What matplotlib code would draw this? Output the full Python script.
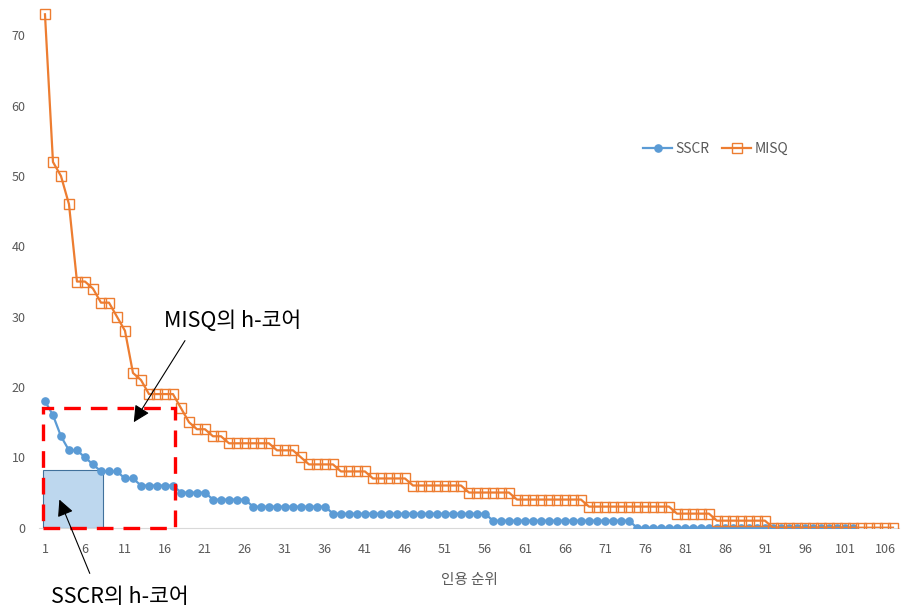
import matplotlib.pyplot as plt
from matplotlib.patches import Rectangle

plt.rcParams['font.family'] = ['Noto Sans CJK KR', 'DejaVu Sans']

# citation counts by rank
sscr = [18, 16, 13, 11, 11, 10, 9, 8, 8, 8, 7, 7, 6, 6, 6, 6, 6, 5, 5, 5, 5,
        4, 4, 4, 4, 4] + [3] * 10 + [2] * 20 + [1] * 18 + [0] * 28
misq = [73, 52, 50, 46, 35, 35, 34, 32, 32, 30, 28, 22, 21, 19, 19, 19, 19, 17,
        15, 14, 14, 13, 13] + [12] * 6 + [11] * 3 + [10] + [9] * 4 + [8] * 4 \
    + [7] * 5 + [6] * 7 + [5] * 6 + [4] * 9 + [3] * 11 + [2] * 5 + [1] * 7 + [0] * 16

h_sscr = 8
h_misq = 17
xticks = list(range(1, 107, 5))
yticks = list(range(0, 71, 10))

blue = "#5B9BD5"
orange = "#ED7D31"
grey = "#595959"

fig = plt.figure(figsize=(9.01, 6.09), dpi=100)
ax = fig.add_axes([0.0437, 0.1335, 0.9536, 0.8615])

ax.plot(range(1, len(sscr) + 1), sscr, color=blue, lw=1.6, marker="o",
        markersize=5.2, label="SSCR", zorder=3)
ax.plot(range(1, len(misq) + 1), misq, color=orange, lw=1.6, marker="s",
        markersize=7.2, markerfacecolor="none", markeredgewidth=1.0,
        label="MISQ", zorder=3)

# h-core boxes
ax.add_patch(Rectangle((0.8, 0), h_sscr - 0.6, h_sscr + 0.2, facecolor="#BDD7EE",
                       edgecolor="#41719C", lw=0.8, zorder=2))
ax.add_patch(Rectangle((0.8, 0), h_misq - 0.6, h_misq, facecolor="none",
                       edgecolor="#FF0000", lw=2.4, linestyle=(0, (5, 3)),
                       zorder=4, clip_on=False))

arrow = dict(arrowstyle="-|>,head_length=0.5,head_width=0.25", mutation_scale=20,
             color="black", lw=0.8, shrinkA=0, shrinkB=0)
ax.annotate("", xy=(12.1, 15.0), xytext=(18.5, 26.6), arrowprops=arrow, zorder=5)
ax.text(24.4, 29.4, "MISQ의 h-코어", fontsize=15.5, ha="center", va="center")
ax.annotate("", xy=(2.8, 4.0), xytext=(6.6, -6.5), arrowprops=arrow,
            annotation_clip=False, zorder=5)
ax.text(10.4, -9.9, "SSCR의 h-코어", fontsize=15.5, ha="center", va="center",
        clip_on=False)

ax.set_xlim(0.3, 107.7)
ax.set_ylim(0, 74.6)
ax.set_xticks(xticks)
ax.set_yticks(yticks)
ax.tick_params(length=0, labelsize=9, labelcolor=grey)
ax.tick_params(axis="x", pad=11)
ax.tick_params(axis="y", pad=10)
for s in ["top", "right", "left"]:
    ax.spines[s].set_visible(False)
ax.spines["bottom"].set_color("#D9D9D9")
ax.set_xlabel("인용 순위", fontsize=10.5, color=grey, labelpad=12)

ax.legend(loc="center left", bbox_to_anchor=(643 / 901, 1 - 149 / 609),
          bbox_transform=fig.transFigure, ncol=2, frameon=False, fontsize=10,
          labelcolor=grey, handlelength=2.1, handletextpad=0.25,
          columnspacing=0.9, borderpad=0, borderaxespad=0)

fig.savefig("out.png", dpi=100)
